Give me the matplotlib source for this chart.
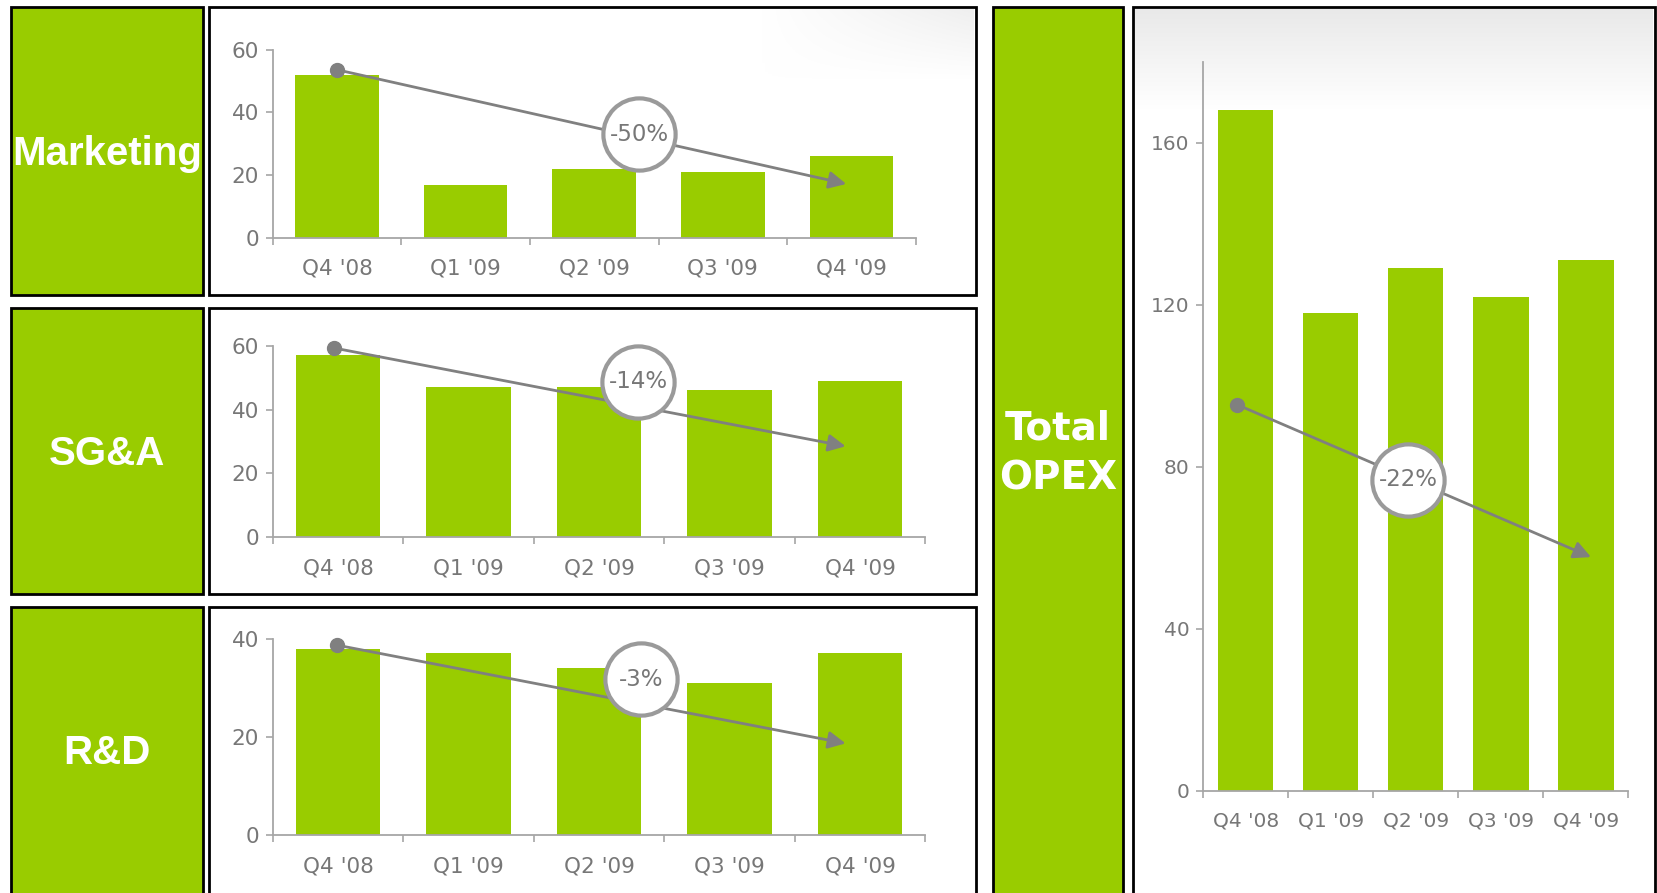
import matplotlib
matplotlib.use("Agg")
import numpy as np
import matplotlib.pyplot as plt
from matplotlib.patches import Rectangle
from matplotlib.colors import LinearSegmentedColormap

W, H = 1658, 893

# ---------------------------------------------------------
# Data
# ---------------------------------------------------------
quarters = ["Q4 '08", "Q1 '09", "Q2 '09", "Q3 '09", "Q4 '09"]
marketing = [52, 17, 22, 21, 26]
sga = [57, 47, 47, 46, 49]
rnd = [38, 37, 34, 31, 37]
total_opex = [168, 118, 129, 122, 131]

change_labels = ["-50%", "-14%", "-3%", "-22%"]

GREEN = "#99cc00"
GRAY_TXT = "#777777"
GRAY_AX = "#a6a6a6"
GRAY_ARROW = "#808080"


def frac(x0, y0, x1, y1):
    # pixel box (top-left origin) -> figure fraction [l, b, w, h]
    return [x0 / W, 1 - y1 / H, (x1 - x0) / W, (y1 - y0) / H]


def box(fig, x0, y0, x1, y1, face, z=0):
    r = Rectangle((x0 / W, 1 - y1 / H), (x1 - x0) / W, (y1 - y0) / H,
                  transform=fig.transFigure, facecolor=face,
                  edgecolor="black", linewidth=2, zorder=z)
    fig.add_artist(r)


def shade(fig, x0, y0, x1, y1, top="#e9e9e9", from_left=False):
    # soft grey fade at the top of a frame
    ax = fig.add_axes(frac(x0, y0, x1, y1), zorder=-1)
    cmap = LinearSegmentedColormap.from_list("fade", [top, "white"])
    yy, xx = np.mgrid[0:1:64j, 0:1:64j]
    z = yy if not from_left else 1 - (1 - yy) * xx
    ax.imshow(z, aspect="auto", cmap=cmap, extent=(0, 1, 0, 1),
              interpolation="bilinear")
    ax.axis("off")


def bar_panel(ax, values, ylim, yticks, trend, label, xsize, ysize):
    x = range(len(values))
    ax.bar(x, values, width=0.65, color=GREEN, zorder=2)
    ax.set_xlim(-0.5, len(values) - 0.5)
    ax.set_ylim(*ylim)
    ax.set_yticks(yticks)
    ax.set_xticks(list(x))
    ax.set_xticklabels(quarters)
    ax.set_xticks([i - 0.5 for i in range(len(values) + 1)], minor=True)
    ax.patch.set_alpha(0)
    for s in ["top", "right"]:
        ax.spines[s].set_visible(False)
    for s in ["left", "bottom"]:
        ax.spines[s].set_color(GRAY_AX)
        ax.spines[s].set_linewidth(1.3)
    ax.tick_params(axis="x", which="major", length=0, pad=15,
                   labelsize=xsize, labelcolor=GRAY_TXT)
    ax.tick_params(axis="x", which="minor", length=5, direction="out",
                   color=GRAY_AX, width=1.2)
    ax.tick_params(axis="y", length=5, width=1.2, color=GRAY_AX, pad=5,
                   labelsize=ysize, labelcolor=GRAY_TXT)

    (sx, sy), (ex, ey), (cx, cy) = trend
    ax.annotate("", xy=(ex, ey), xytext=(sx, sy),
                arrowprops=dict(arrowstyle="-|>", color=GRAY_ARROW, lw=2,
                                mutation_scale=26, shrinkA=0, shrinkB=0),
                zorder=4, annotation_clip=False)
    ax.plot([sx], [sy], "o", ms=10, color=GRAY_ARROW, zorder=5, clip_on=False)
    ax.plot([cx], [cy], "o", ms=52, mfc="white", mec="#9a9a9a", mew=3,
            zorder=6, clip_on=False)
    ax.text(cx, cy, label, ha="center", va="center", fontsize=16.5,
            color=GRAY_TXT, zorder=7)


def main():
    plt.rcParams["font.family"] = ["DejaVu Sans"]
    fig = plt.figure(figsize=(W / 100, H / 100), dpi=100)
    fig.patch.set_facecolor("white")

    # label + chart frames
    rows = [(7.4, 295), (307.7, 594), (607, 905)]
    names = ["Marketing", "SG&A", "R&D"]
    label_y = [154, 454, 753]
    for (y0, y1), name, yc in zip(rows, names, label_y):
        box(fig, 10.6, y0, 203, y1, GREEN)
        box(fig, 209.4, y0, 976, y1, "white", z=-2)
        fig.text(107 / W, 1 - yc / H, name, ha="center", va="center",
                 color="white", fontsize=29, fontweight="bold",
                 family=["Liberation Sans", "DejaVu Sans"])
    box(fig, 993, 7.4, 1123, 905, GREEN)
    box(fig, 1133.5, 7.4, 1655, 905, "white", z=-2)
    shade(fig, 1135, 9, 1653, 110)
    shade(fig, 760, 9, 974, 80, top="#efefef", from_left=True)
    fig.text(1058 / W, 1 - 428 / H, "Total", ha="center", va="center",
             color="white", fontsize=28, fontweight="bold")
    fig.text(1058 / W, 1 - 479 / H, "OPEX", ha="center", va="center",
             color="white", fontsize=28, fontweight="bold")

    ax_mk = fig.add_axes(frac(272.8, 49.7, 915.7, 237.9))
    bar_panel(ax_mk, marketing, (0, 60), [0, 20, 40, 60],
              [(0.0, 53.6), (3.96, 17.2), (2.35, 33)], change_labels[0],
              15.5, 15.5)

    ax_sg = fig.add_axes(frac(272.8, 345.8, 925.2, 537.2))
    bar_panel(ax_sg, sga, (0, 60), [0, 20, 40, 60],
              [(-0.03, 59.3), (3.89, 28.5), (2.30, 48.7)], change_labels[1],
              15.5, 15.5)

    ax_rd = fig.add_axes(frac(272.8, 638.7, 925.2, 835.3))
    bar_panel(ax_rd, rnd, (0, 40), [0, 20, 40],
              [(-0.01, 38.7), (3.89, 18.7), (2.32, 31.8)], change_labels[2],
              15.5, 15.5)

    ax_tot = fig.add_axes(frac(1203.3, 61.6, 1628.4, 790.9))
    bar_panel(ax_tot, total_opex, (0, 180), [0, 40, 80, 120, 160],
              [(-0.1, 95.3), (4.06, 57.7), (1.91, 76.8)], change_labels[3],
              14.5, 14.5)

    fig.savefig("out.png", dpi=100)


if __name__ == "__main__":
    main()
